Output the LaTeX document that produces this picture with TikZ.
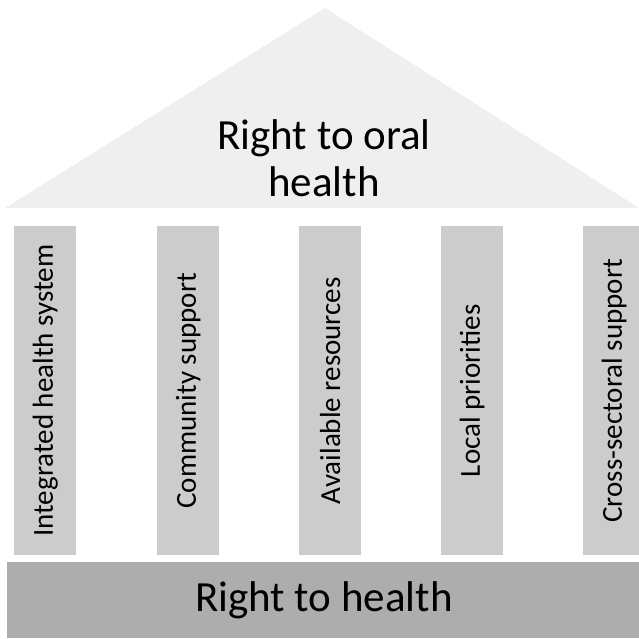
\documentclass[tikz,border=0pt]{standalone}
\usepackage{fontspec}
\setmainfont{Carlito}
\definecolor{roofc}{HTML}{EFEFEF}
\definecolor{pillarc}{HTML}{CCCCCC}
\definecolor{basec}{HTML}{ADADAD}
\begin{document}
\begin{tikzpicture}[x=1pt,y=-1pt,
  pillar/.style={fill=pillarc,draw=none,minimum width=62pt,minimum height=329pt,inner sep=0pt,anchor=north west},
  ptext/.style={rotate=90,font=\fontsize{29}{34}\selectfont,text=black},
  bigtext/.style={font=\fontsize{43}{47}\selectfont,text=black,align=center}]
\useasboundingbox (0,0) rectangle (639,638);
\fill[roofc] (5,208) -- (325,8) -- (639,208) -- cycle;
\node[bigtext] (roof) at (324,158) {Right to oral\\health};
\node[pillar] (p1) at (14,226) {};
\node[pillar] (p2) at (157,226) {};
\node[pillar] (p3) at (299,226) {};
\node[pillar] (p4) at (441,226) {};
\node[pillar,minimum width=56pt] (p5) at (583,226) {};
\node[ptext] at (p1.center) {Integrated health system};
\node[ptext] at (p2.center) {Community support};
\node[ptext] at (p3.center) {Available resources};
\node[ptext] at (p4.center) {Local priorities};
\node[ptext] at ([xshift=3pt]p5.center) {Cross-sectoral support};
\fill[basec] (7,562) rectangle (639,638);
\node[bigtext] (base) at (324,600) {Right to health};
\end{tikzpicture}
\end{document}
